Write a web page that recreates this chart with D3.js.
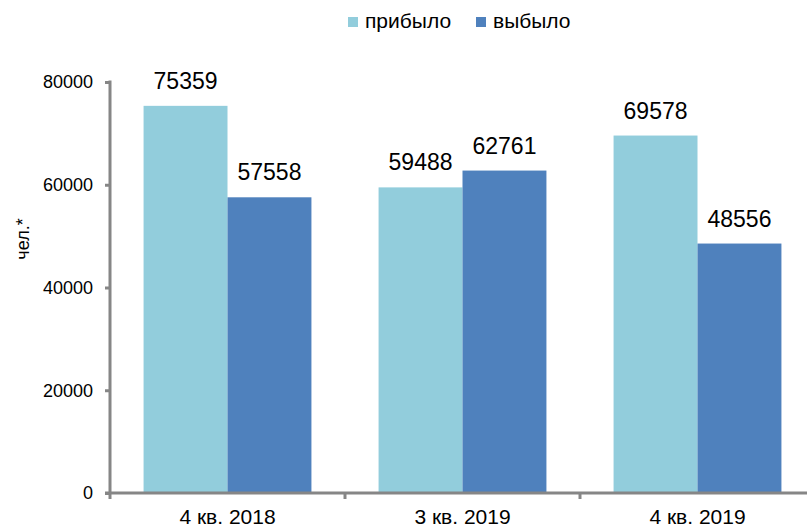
<!DOCTYPE html>
<html>
<head>
<meta charset="utf-8">
<script src="https://cdn.jsdelivr.net/npm/d3@7"></script>
<style>
  body { margin: 0; background: #fff; }
  text { font-family: "Liberation Sans", Arial, sans-serif; fill: #000; }
</style>
</head>
<body>
<div id="chart"></div>
<script>
// data
var quarters = ["4 кв. 2018", "3 кв. 2019", "4 кв. 2019"];
var seriesNames = ["прибыло", "выбыло"];
var arrived = [75359, 59488, 69578];
var departed = [57558, 62761, 48556];
var yTicks = [0, 20000, 40000, 60000, 80000];
var colors = ["#92cddc", "#4f81bd"];

var svgWidth = 807;
var svgHeight = 527;
var margin = { top: 82, right: 0, bottom: 34, left: 110 };
var chartHeight = svgHeight - margin.top - margin.bottom;

var svg = d3.select("#chart").append("svg")
  .attr("width", svgWidth)
  .attr("height", svgHeight);

var g = svg.append("g")
  .attr("transform", `translate(${margin.left}, ${margin.top})`);

var x0 = d3.scaleBand().domain(quarters).range([0, 705]);
var x1 = d3.scaleBand().domain(seriesNames).range([0, x0.bandwidth()]).paddingOuter(0.4);
var y = d3.scaleLinear().domain([0, 80000]).range([chartHeight, 0]);

var rows = quarters.map(function(q, i) {
  return { q: q, vals: [arrived[i], departed[i]] };
});

// bars
var groups = g.selectAll(".grp").data(rows).enter().append("g")
  .attr("transform", function(d) { return `translate(${x0(d.q)},0)`; });

groups.selectAll("rect")
  .data(function(d) { return d.vals.map(function(v, j) { return { name: seriesNames[j], v: v, j: j }; }); })
  .enter().append("rect")
  .attr("x", function(d) { return x1(d.name); })
  .attr("y", function(d) { return y(d.v); })
  .attr("width", x1.bandwidth())
  .attr("height", function(d) { return chartHeight - y(d.v); })
  .attr("fill", function(d) { return colors[d.j]; });

groups.selectAll(".lbl")
  .data(function(d) { return d.vals.map(function(v, j) { return { name: seriesNames[j], v: v }; }); })
  .enter().append("text")
  .attr("x", function(d) { return x1(d.name) + x1.bandwidth() / 2; })
  .attr("y", function(d) { return y(d.v) - 17; })
  .attr("text-anchor", "middle")
  .style("font-size", "23px")
  .text(function(d) { return d.v; });

// y axis
var leftAxis = d3.axisLeft(y).tickValues(yTicks).tickSize(5).tickPadding(12).tickFormat(d3.format("d"));
var yAx = g.append("g").call(leftAxis);
yAx.select(".domain").remove();
yAx.selectAll(".tick line").attr("stroke", "#868686").attr("stroke-width", 3);
yAx.selectAll(".tick text").style("font-size", "18px").attr("fill", "#000");
g.append("line").attr("x1", 0).attr("x2", 0).attr("y1", -1.5).attr("y2", chartHeight)
  .attr("stroke", "#868686").attr("stroke-width", 3);

// x axis
g.append("line").attr("x1", -5).attr("x2", 700).attr("y1", chartHeight).attr("y2", chartHeight)
  .attr("stroke", "#868686").attr("stroke-width", 3);
var bounds = quarters.map(function(q) { return x0(q); });
g.selectAll(".xtick").data(bounds).enter().append("line")
  .attr("x1", function(d) { return d; }).attr("x2", function(d) { return d; })
  .attr("y1", chartHeight).attr("y2", chartHeight + 6)
  .attr("stroke", "#868686").attr("stroke-width", 3);
g.selectAll(".xlbl").data(quarters).enter().append("text")
  .attr("x", function(d) { return x0(d) + x0.bandwidth() / 2; })
  .attr("y", chartHeight + 31)
  .attr("text-anchor", "middle")
  .style("font-size", "21px")
  .text(function(d) { return d; });

// y label
svg.append("text")
  .attr("transform", "translate(29, 239) rotate(-90)")
  .attr("text-anchor", "middle")
  .style("font-size", "18px")
  .text("чел.*");

// legend
var legend = svg.append("g");
var legX = [348, 476];
seriesNames.forEach(function(n, i) {
  legend.append("rect").attr("x", legX[i]).attr("y", 17).attr("width", 10).attr("height", 10).attr("fill", colors[i]);
  legend.append("text").attr("x", legX[i] + 17).attr("y", 28).style("font-size", "21px").text(n);
});
</script>
</body>
</html>
